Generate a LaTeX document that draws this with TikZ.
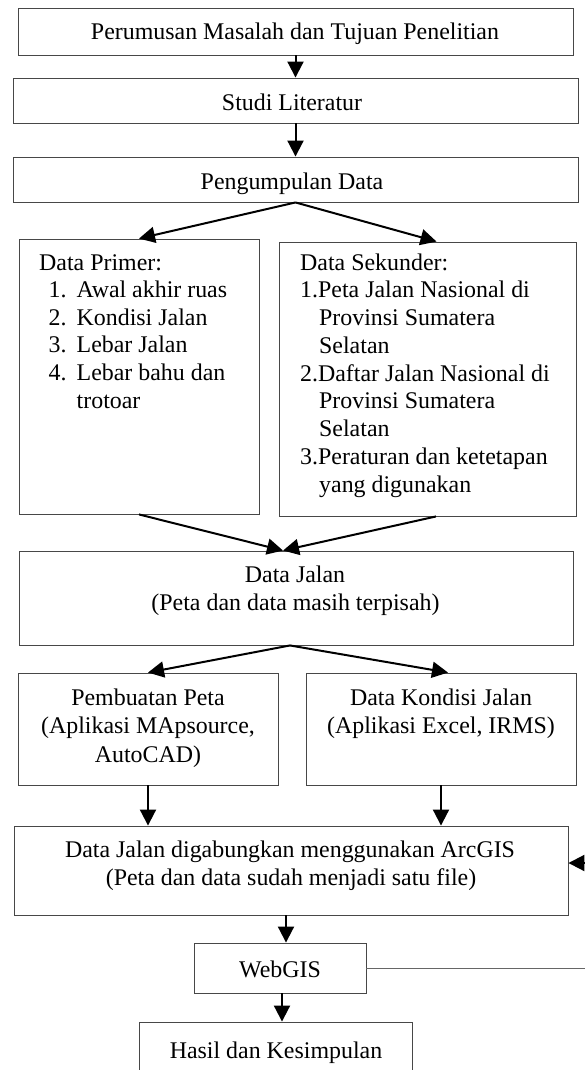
\documentclass[tikz,border=0pt]{standalone}
\usepackage{fontspec}
\setmainfont{Liberation Serif}
\usetikzlibrary{arrows.meta}
\begin{document}
\begin{tikzpicture}[x=1pt,y=-1pt,
  box/.style={draw=black!72, line width=0.9pt, inner sep=0pt},
  txt/.style={inner sep=0pt, font=\fontsize{23.9}{27.7}\selectfont},
  arr/.style={line width=2pt, -{Triangle[length=16pt,width=16pt]}},
  fb/.style={draw=black!60, line width=0.9pt}]
\useasboundingbox (0,0) rectangle (585,1070);
\clip (0,0) rectangle (585,1070);
% boxes
\node[box, minimum width=555pt, minimum height=47pt] (b1) at (295.5,31.5) {};
\node[box, minimum width=565pt, minimum height=45pt] (b2) at (295.5,100.5) {};
\node[box, minimum width=565pt, minimum height=45pt] (b3) at (295.5,179.5) {};
\node[box, minimum width=240pt, minimum height=275pt] (b4) at (139,376.5) {};
\node[box, minimum width=297pt, minimum height=274pt] (b5) at (427.5,379) {};
\node[box, minimum width=554pt, minimum height=94pt] (b6) at (296,598) {};
\node[box, minimum width=260pt, minimum height=112pt] (b7) at (148,729) {};
\node[box, minimum width=270pt, minimum height=112pt] (b8) at (441,729) {};
\node[box, minimum width=554pt, minimum height=89pt] (b9) at (291,870.5) {};
\node[box, minimum width=172pt, minimum height=50pt] (b10) at (280,968) {};
\node[box, minimum width=273pt, minimum height=58pt] (b11) at (275.5,1051) {};
% texts
\node[txt, anchor=base] (t1) at (295,40) {Perumusan Masalah dan Tujuan Penelitian};
\node[txt, anchor=base] (t2) at (292,111) {Studi Literatur};
\node[txt, anchor=base] (t3) at (292,189) {Pengumpulan Data};
% primer
\node[txt, anchor=base west] (p0) at (39,270) {Data Primer:};
\node[txt, anchor=base west] (p1n) at (48.5,297.6) {1.};
\node[txt, anchor=base west] (p1) at (76.5,297.6) {Awal akhir ruas};
\node[txt, anchor=base west] (p2n) at (48.5,325.2) {2.};
\node[txt, anchor=base west] (p2) at (76.5,325.2) {Kondisi Jalan};
\node[txt, anchor=base west] (p3n) at (48.5,352.8) {3.};
\node[txt, anchor=base west] (p3) at (76.5,352.8) {Lebar Jalan};
\node[txt, anchor=base west] (p4n) at (48.5,380.4) {4.};
\node[txt, anchor=base west] (p4) at (76.5,380.4) {Lebar bahu dan};
\node[txt, anchor=base west] (p5) at (76.5,408) {trotoar};
% sekunder
\node[txt, anchor=base west] (s0) at (300,270) {Data Sekunder:};
\node[txt, anchor=base west] (s1) at (300,297.75) {1.Peta Jalan Nasional di};
\node[txt, anchor=base west] (s2) at (319,325.5) {Provinsi Sumatera};
\node[txt, anchor=base west] (s3) at (319,353.25) {Selatan};
\node[txt, anchor=base west] (s4) at (300,381) {2.Daftar Jalan Nasional di};
\node[txt, anchor=base west] (s5) at (319,408.75) {Provinsi Sumatera};
\node[txt, anchor=base west] (s6) at (319,436.5) {Selatan};
\node[txt, anchor=base west] (s7) at (300,464.25) {3.Peraturan dan ketetapan};
\node[txt, anchor=base west] (s8) at (319,492) {yang digunakan};
% data jalan
\node[txt, anchor=base] (j1) at (295,582) {Data Jalan};
\node[txt, anchor=base] (j2) at (295.5,610) {(Peta dan data masih terpisah)};
% pembuatan peta
\node[txt, anchor=base] (m1) at (148,705) {Pembuatan Peta};
\node[txt, anchor=base] (m2) at (148,733) {(Aplikasi MApsource,};
\node[txt, anchor=base] (m3) at (148,762) {AutoCAD)};
% kondisi
\node[txt, anchor=base] (k1) at (441,705) {Data Kondisi Jalan};
\node[txt, anchor=base] (k2) at (441,733) {(Aplikasi Excel, IRMS)};
% gabung
\node[txt, anchor=base] (g1) at (290,857) {Data Jalan digabungkan menggunakan ArcGIS};
\node[txt, anchor=base] (g2) at (291,885) {(Peta dan data sudah menjadi satu file)};
\node[txt, anchor=base] (w1) at (280,977) {WebGIS};
\node[txt, anchor=base] (h1) at (276,1058) {Hasil dan Kesimpulan};
% connectors
\draw[arr] (b1.south) -- (b2.north);
\draw[arr] (b2.south) -- (b3.north);
\draw[arr] (b3.south) -- (b4.north);
\draw[arr] (b3.south) -- ([xshift=9pt]b5.north);
\draw[arr] (b4.south) -- ([xshift=-13pt]b6.north);
\draw[arr] ([xshift=8.5pt]b5.south) -- ([xshift=-13pt]b6.north);
\draw[arr] ([xshift=-6pt]b6.south) -- (b7.north);
\draw[arr] ([xshift=-6pt]b6.south) -- ([xshift=7pt]b8.north);
\draw[arr] (b7.south) -- (b7.south |- b9.north);
\draw[arr] (b8.south) -- (b8.south |- b9.north);
\draw[arr] ([xshift=6pt]b10.north |- b9.south) -- ([xshift=6pt]b10.north);
\draw[arr] ([xshift=2pt]b10.south) -- ([xshift=2pt]b10.south |- b11.north);
\coordinate (fa) at (600,968);
\coordinate (fc) at (600,863);
\draw[fb] (b10.east) -- (fa) -- (fc);
\draw[arr] (fc) -- (b9.east |- fc);
\end{tikzpicture}
\end{document}
